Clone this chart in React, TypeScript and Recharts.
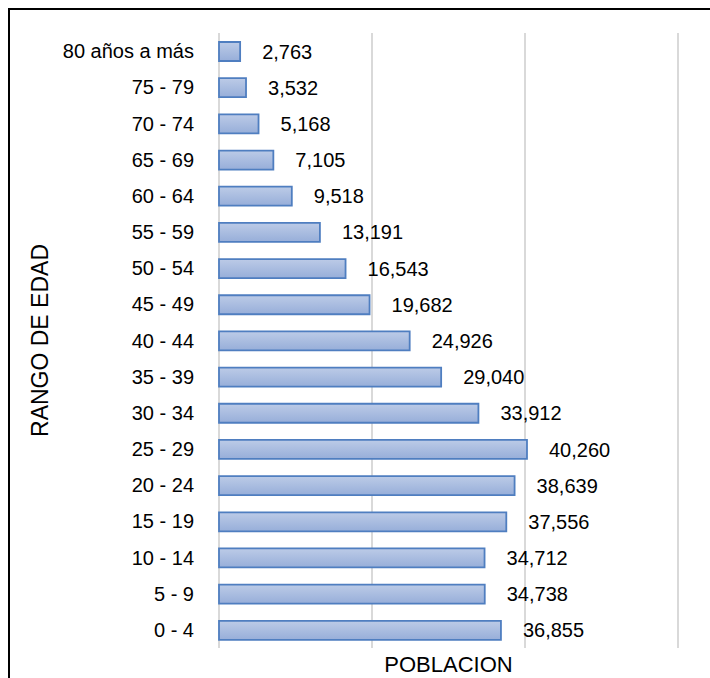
import React from 'react';
import { BarChart, Bar, XAxis, YAxis, CartesianGrid, LabelList } from 'recharts';

// Age ranges, top to bottom as drawn
const ageRanges = [
  '80 años a más', '75 - 79', '70 - 74', '65 - 69', '60 - 64', '55 - 59',
  '50 - 54', '45 - 49', '40 - 44', '35 - 39', '30 - 34', '25 - 29',
  '20 - 24', '15 - 19', '10 - 14', '5 - 9', '0 - 4',
];

const population = [
  2763, 3532, 5168, 7105, 9518, 13191,
  16543, 19682, 24926, 29040, 33912, 40260,
  38639, 37556, 34712, 34738, 36855,
];

const xTicks = [0, 20000, 40000, 60000];

const chartData = ageRanges.map((range, i) => ({ range, value: population[i] }));

const font = '"Liberation Sans", Arial, sans-serif';

// x tick labels are hidden in the original, but the ticks still drive the grid
const NoTick = () => <g />;

export default function App() {
  return (
    <div style={{ position: 'fixed', inset: 0, overflow: 'hidden', background: '#fff' }}>
      {/* chart frame: only top and left edges are visible in the crop */}
      <div
        style={{
          position: 'absolute',
          left: 8,
          top: 8,
          width: 710,
          height: 700,
          borderTop: '2px solid #000',
          borderLeft: '2px solid #000',
        }}
      >
        <BarChart
          width={700}
          height={668}
          data={chartData}
          layout="vertical"
          margin={{ top: 23, right: 32, left: 0, bottom: 0 }}
          barSize={19}
          style={{ fontFamily: font }}
        >
          <defs>
            <linearGradient id="barFill" x1="0" y1="0" x2="0" y2="1">
              <stop offset="0%" stopColor="#bccbe7" />
              <stop offset="100%" stopColor="#97aed9" />
            </linearGradient>
          </defs>
          <CartesianGrid horizontal={false} stroke="#d9d9d9" strokeWidth={2} />
          <XAxis
            type="number"
            domain={[0, 60000]}
            ticks={xTicks}
            tick={<NoTick />}
            axisLine={false}
            tickLine={false}
            height={30}
            label={{
              value: 'POBLACION',
              position: 'insideBottom',
              offset: 6,
              style: { fontSize: 22, fill: '#000', fontFamily: font },
            }}
          />
          <YAxis
            type="category"
            dataKey="range"
            width={209}
            axisLine={false}
            tickLine={false}
            tickMargin={19}
            interval={0}
            tick={{ fontSize: 20, fill: '#000', fontFamily: font }}
            label={{
              value: 'RANGO DE EDAD',
              angle: -90,
              position: 'insideLeft',
              offset: 30,
              style: { fontSize: 23, fill: '#000', fontFamily: font, textAnchor: 'middle' },
            }}
          />
          <Bar
            dataKey="value"
            fill="url(#barFill)"
            stroke="#4f7ec0"
            strokeWidth={1.8}
            isAnimationActive={false}
          >
            <LabelList
              dataKey="value"
              position="right"
              offset={22}
              formatter={(v: number) => v.toLocaleString('en-US')}
              style={{ fontSize: 20, fill: '#000', fontFamily: font }}
            />
          </Bar>
        </BarChart>
      </div>
    </div>
  );
}
